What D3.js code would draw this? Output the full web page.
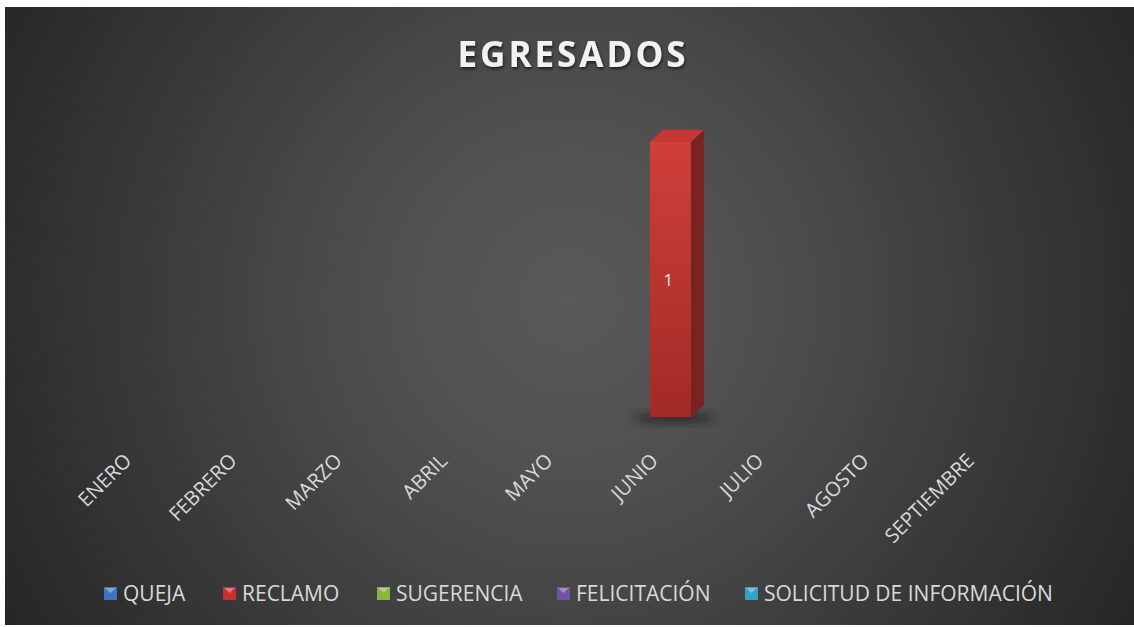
<!doctype html><html><head><meta charset="utf-8">
<style>
  body { margin: 0; background: #fff; }
  svg { display: block; }
</style>
</head><body><script src='https://d3js.org/d3.v7.min.js'></script>

<script>
  const months = ["ENERO", "FEBRERO", "MARZO", "ABRIL", "MAYO", "JUNIO", "JULIO", "AGOSTO", "SEPTIEMBRE"];
  const series = ["QUEJA", "RECLAMO", "SUGERENCIA", "FELICITACIÓN", "SOLICITUD DE INFORMACIÓN"];
  const colors = ["#3f74c4", "#c9302c", "#8cb33a", "#7451a5", "#2ca6c6"];
  // one value per month, per series (only RECLAMO in JUNIO has a value)
  const queja = [0, 0, 0, 0, 0, 0, 0, 0, 0];
  const reclamo = [0, 0, 0, 0, 0, 1, 0, 0, 0];
  const sugerencia = [0, 0, 0, 0, 0, 0, 0, 0, 0];
  const felicitacion = [0, 0, 0, 0, 0, 0, 0, 0, 0];
  const solicitud = [0, 0, 0, 0, 0, 0, 0, 0, 0];
  const values = [queja, reclamo, sugerencia, felicitacion, solicitud];

  const width = 1134, height = 627;
  const font = "'Open Sans', 'Noto Sans', sans-serif";

  const svg = d3.select("body").append("svg")
    .attr("width", width)
    .attr("height", height);

  const defs = svg.append("defs");

  const bg = defs.append("radialGradient")
    .attr("id", "bg")
    .attr("gradientUnits", "userSpaceOnUse")
    .attr("cx", 570).attr("cy", 300).attr("r", 650);
  bg.append("stop").attr("offset", "0%").attr("stop-color", "#595959");
  bg.append("stop").attr("offset", "30%").attr("stop-color", "#4f4f4f");
  bg.append("stop").attr("offset", "100%").attr("stop-color", "#262626");

  const front = defs.append("linearGradient")
    .attr("id", "front").attr("x1", 0).attr("y1", 0).attr("x2", 0).attr("y2", 1);
  front.append("stop").attr("offset", "0%").attr("stop-color", "#d03f3a");
  front.append("stop").attr("offset", "100%").attr("stop-color", "#a22a26");

  const blur = defs.append("filter").attr("id", "blur")
    .attr("x", "-50%").attr("y", "-50%").attr("width", "200%").attr("height", "200%");
  blur.append("feGaussianBlur").attr("stdDeviation", 4);

  const tshadow = defs.append("filter").attr("id", "tshadow")
    .attr("x", "-10%").attr("y", "-30%").attr("width", "120%").attr("height", "160%");
  tshadow.append("feDropShadow")
    .attr("dx", 1).attr("dy", 2).attr("stdDeviation", 1.5)
    .attr("flood-color", "#000").attr("flood-opacity", 0.6);

  svg.append("rect")
    .attr("x", 5).attr("y", 7)
    .attr("width", width - 5).attr("height", height - 9)
    .attr("fill", "url(#bg)");

  // title
  svg.append("text")
    .attr("x", 573).attr("y", 67)
    .attr("text-anchor", "middle")
    .attr("font-family", font)
    .attr("font-weight", "bold")
    .attr("font-size", 35)
    .attr("letter-spacing", 3)
    .attr("fill", "#f2f2f2")
    .attr("filter", "url(#tshadow)")
    .text("EGRESADOS");

  const x = d3.scaleBand()
    .domain(months)
    .range([91, 1039]);

  const y = d3.scaleLinear()
    .domain([0, 1])
    .range([417, 142]);

  const barW = 41, dx = 13, dy = -12;

  // bars (3D look)
  values.forEach(function(vals, s) {
    vals.forEach(function(v, i) {
      if (!v) return;
      const cx = x(months[i]) + x.bandwidth() / 2;
      const x0 = cx - barW / 2, x1 = cx + barW / 2;
      const yt = y(v), yb = y(0);
      const g = svg.append("g");

      g.append("ellipse")
        .attr("cx", cx + 4).attr("cy", yb + 1)
        .attr("rx", barW / 2 + 20).attr("ry", 5)
        .attr("fill", "#1a1a1a").attr("opacity", 0.7)
        .attr("filter", "url(#blur)");

      g.append("path")
        .attr("d", "M" + x1 + "," + yt + "L" + (x1 + dx) + "," + (yt + dy) +
          "L" + (x1 + dx) + "," + (yb + dy) + "L" + x1 + "," + yb + "Z")
        .attr("fill", "#7a221f");

      g.append("path")
        .attr("d", "M" + x0 + "," + yt + "L" + (x0 + dx) + "," + (yt + dy) +
          "L" + (x1 + dx) + "," + (yt + dy) + "L" + x1 + "," + yt + "Z")
        .attr("fill", "#c43733");

      g.append("rect")
        .attr("x", x0).attr("y", yt)
        .attr("width", barW).attr("height", yb - yt)
        .attr("fill", s === 1 ? "url(#front)" : colors[s]);

      g.append("text")
        .attr("x", cx - 2).attr("y", (yt + yb) / 2 + 6)
        .attr("text-anchor", "middle")
        .attr("font-family", font)
        .attr("font-size", 17)
        .attr("fill", "#e6e6e6")
        .text(v);
    });
  });

  // category labels, rotated
  svg.append("g").selectAll("text")
    .data(months)
    .enter()
    .append("text")
    .attr("transform", function(d) {
      return "translate(" + (x(d) + x.bandwidth() / 2 - 11) + ",462) rotate(-45)";
    })
    .attr("text-anchor", "end")
    .attr("font-family", font)
    .attr("font-size", 20)
    .attr("fill", "#d9d9d9")
    .text(function(d) { return d; });

  // legend
  const legendX = [104, 223, 377, 557, 745];
  const lg = svg.append("g").selectAll("g")
    .data(series)
    .enter()
    .append("g")
    .attr("transform", function(d, i) { return "translate(" + legendX[i] + ",587)"; });

  lg.append("rect")
    .attr("width", 13).attr("height", 13)
    .attr("fill", function(d, i) { return colors[i]; });
  lg.append("path")
    .attr("d", "M1,1L12,1L6.5,6Z")
    .attr("fill", "#fff").attr("opacity", 0.35);

  lg.append("text")
    .attr("x", 19).attr("y", 14)
    .attr("font-family", font)
    .attr("font-size", 21)
    .attr("fill", "#d9d9d9")
    .text(function(d) { return d; });
</script></body></html>
